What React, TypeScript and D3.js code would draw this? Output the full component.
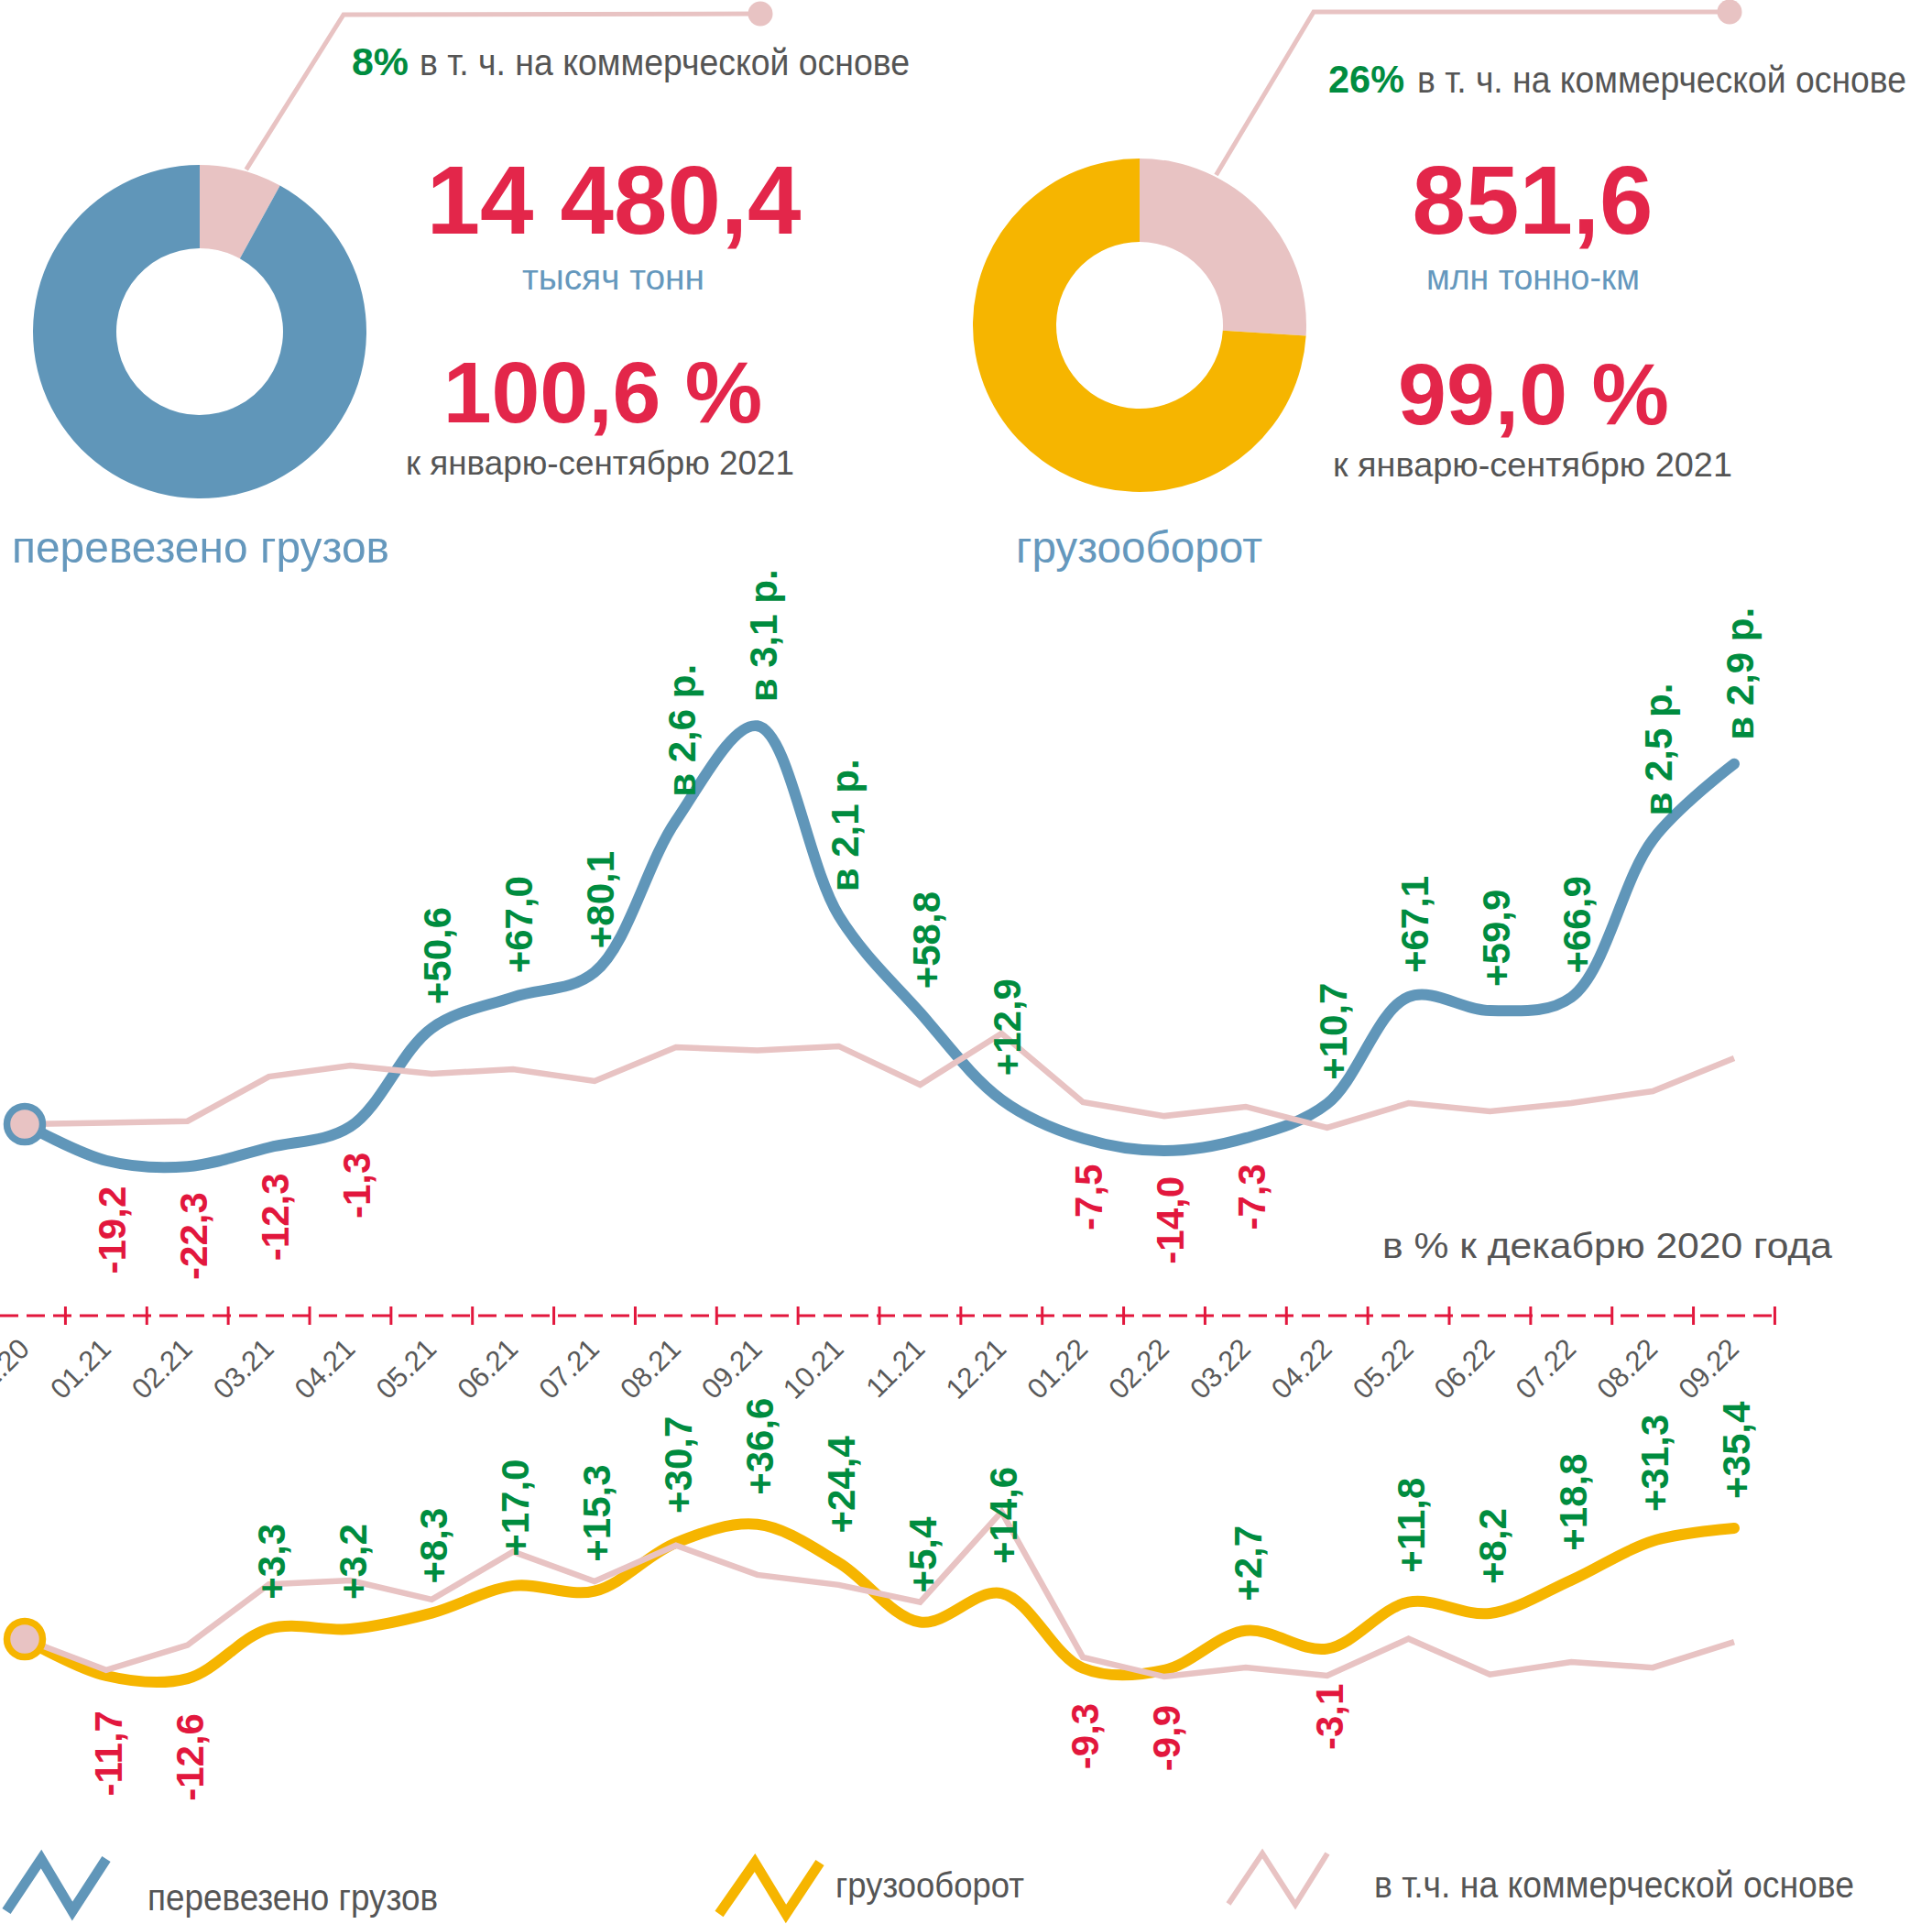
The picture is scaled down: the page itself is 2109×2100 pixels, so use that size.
import React from "react";
import * as d3 from "d3";

// ---------- data ----------
const months = ["12.20","01.21","02.21","03.21","04.21","05.21","06.21","07.21","08.21","09.21","10.21","11.21","12.21","01.22","02.22","03.22","04.22","05.22","06.22","07.22","08.22","09.22"];

// перевезено грузов, % к декабрю 2020
const cargoLabels = ["","-19,2","-22,3","-12,3","-1,3","+50,6","+67,0","+80,1","в 2,6 р.","в 3,1 р.","в 2,1 р.","+58,8","+12,9","-7,5","-14,0","-7,3","+10,7","+67,1","+59,9","+66,9","в 2,5 р.","в 2,9 р."];
const cargoValues = [0,-19.2,-22.3,-12.3,-1.3,50.6,67.0,80.1,160,210,110,58.8,12.9,-7.5,-14.0,-7.3,10.7,67.1,59.9,66.9,150,190];
const cargoCommercial = [0,0.7,1.6,25.1,30.9,26.6,29.0,22.7,40.6,38.9,41.1,20.8,47.8,11.6,4.3,9.2,-1.9,11.1,6.8,11.1,17.4,34.8];

// грузооборот, % к декабрю 2020
const turnoverLabels = ["","-11,7","-12,6","+3,3","+3,2","+8,3","+17,0","+15,3","+30,7","+36,6","+24,4","+5,4","+14,6","-9,3","-9,9","+2,7","-3,1","+11,8","+8,2","+18,8","+31,3","+35,4"];
const turnoverValues = [0,-11.7,-12.6,3.3,3.2,8.3,17.0,15.3,30.7,36.6,24.4,5.4,14.6,-9.3,-9.9,2.7,-3.1,11.8,8.2,18.8,31.3,35.4];
const turnoverCommercial = [0,-9.9,-1.9,17.5,18.7,12.6,27.9,18.4,29.9,20.5,17.3,11.8,40.6,-5.8,-12.0,-9.1,-11.7,0.1,-11.3,-7.3,-9.1,-0.9];

// donut shares (commercial %, rest)
const cargoShare = [8, 92];
const turnoverShare = [26, 74];

// ---------- styles ----------
const BLUE = "#6096b9";
const PINK = "#e8c3c3";
const YELLOW = "#f6b500";
const RED = "#e3264a";
const RED_L = "#e2173d";
const GREEN = "#008c3f";
const GRAY = "#555555";
const CAP_BLUE = "#6598bd";
const NARROW = "'Liberation Sans Narrow','Arial Narrow','Liberation Sans',Arial,sans-serif";
const SANS = "'Liberation Sans',Arial,sans-serif";

const W = 2109, H = 2100;

function NT(props: any) {
  const { x, y, len, size, fill, anchor, weight, children } = props;
  return (
    <text x={x} y={y} fontFamily={NARROW} fontSize={size} fill={fill}
      textAnchor={anchor || "start"} fontWeight={weight || "normal"}
      textLength={len} lengthAdjust="spacingAndGlyphs">{children}</text>
  );
}

function Donut(props: any) {
  const { cx, cy, shares, color, leaderAngle, elbow, end } = props;
  const pie = d3.pie<number>().sort(null).value(d => d)(shares);
  const arc = d3.arc<any>().innerRadius(91).outerRadius(182);
  const a = (leaderAngle * Math.PI) / 180;
  const sx = cx + 184 * Math.sin(a), sy = cy - 184 * Math.cos(a);
  return (
    <g>
      <g transform={`translate(${cx},${cy})`}>
        {pie.map((p, i) => (
          <path key={i} d={arc(p) as string} fill={i === 0 ? PINK : color} />
        ))}
      </g>
      <polyline points={`${sx},${sy} ${elbow[0]},${elbow[1]} ${end[0]},${end[1]}`}
        fill="none" stroke={PINK} strokeWidth={5} />
      <circle cx={end[0]} cy={end[1]} r={13.5} fill={PINK} />
    </g>
  );
}

export default function App() {
  const x = d3.scalePoint<string>().domain(months).range([27, 1893]);
  const step = x.step();
  const yTop = d3.scaleLinear().domain([0, 200]).range([1227, 813]);
  const yBot = d3.scaleLinear().domain([0, 30]).range([1789, 1686.4]);

  const smooth = (ys: any) => d3.line<number>()
    .x((_, i) => x(months[i]) as number).y(d => ys(d))
    .curve(d3.curveCatmullRom.alpha(0.5));
  const straight = (ys: any) => d3.line<number>()
    .x((_, i) => x(months[i]) as number).y(d => ys(d));

  const labels = (labs: string[], vals: number[], ys: any, gapPos: number, gapNeg: number, dx: number) =>
    labs.map((t, i) => {
      if (!t) return null;
      const neg = t.startsWith("-");
      const px = (x(months[i]) as number) + dx;
      const py = neg ? ys(vals[i]) + gapNeg : ys(vals[i]) - gapPos;
      return (
        <text key={i} transform={`translate(${px},${py}) rotate(-90)`} dy="0.36em"
          textAnchor={neg ? "end" : "start"} fontFamily={SANS} fontWeight="bold"
          fontSize={42} fill={neg ? RED_L : GREEN}>{t}</text>
      );
    });

  const axisY = 1436;
  const x0 = x(months[0]) as number;

  return (
    <svg width={W} height={H} viewBox={`0 0 ${W} ${H}`}
      style={{ position: "absolute", left: 0, top: 0, background: "#fff" }}>
      <rect width={W} height={H} fill="#fff" />

      {/* ---- donuts ---- */}
      <Donut cx={218} cy={362} shares={cargoShare} color={BLUE}
        leaderAngle={16} elbow={[375, 16]} end={[830, 15]} />
      <Donut cx={1244} cy={355} shares={turnoverShare} color={YELLOW}
        leaderAngle={27} elbow={[1434, 13]} end={[1888, 13]} />

      {/* ---- headline texts left ---- */}
      <NT x={384} y={82} len={62} size={42} fill={GREEN} weight="bold">8%</NT>
      <NT x={458} y={82} len={535} size={41} fill={GRAY}>в т. ч. на коммерческой основе</NT>
      <text x={670} y={255} textAnchor="middle" fontFamily={SANS} fontWeight="bold" fontSize={105} fill={RED}>14 480,4</text>
      <NT x={570} y={316} len={199} size={39} fill={CAP_BLUE}>тысяч  тонн</NT>
      <text x={658} y={461} textAnchor="middle" fontFamily={SANS} fontWeight="bold" fontSize={95} fill={RED}>100,6 %</text>
      <NT x={443} y={518} len={424} size={36} fill={GRAY}>к январю-сентябрю 2021</NT>
      <NT x={13} y={614} len={412} size={49} fill={CAP_BLUE}>перевезено грузов</NT>

      {/* ---- headline texts right ---- */}
      <NT x={1450} y={101} len={83} size={42} fill={GREEN} weight="bold">26%</NT>
      <NT x={1547} y={101} len={534} size={41} fill={GRAY}>в т. ч. на коммерческой основе</NT>
      <text x={1673} y={255} textAnchor="middle" fontFamily={SANS} fontWeight="bold" fontSize={105} fill={RED}>851,6</text>
      <NT x={1557} y={316} len={233} size={39} fill={CAP_BLUE}>млн тонно-км</NT>
      <text x={1674} y={463} textAnchor="middle" fontFamily={SANS} fontWeight="bold" fontSize={95} fill={RED}>99,0 %</text>
      <NT x={1455} y={520} len={436} size={36} fill={GRAY}>к  январю-сентябрю 2021</NT>
      <NT x={1109} y={614} len={269} size={48} fill={CAP_BLUE}>грузооборот</NT>

      {/* ---- top chart ---- */}
      <path d={smooth(yTop)(cargoValues) as string} fill="none" stroke={BLUE} strokeWidth={12} strokeLinecap="round" />
      <path d={straight(yTop)(cargoCommercial) as string} fill="none" stroke={PINK} strokeWidth={6.5} />
      <circle cx={x0} cy={yTop(0)} r={19.5} fill={PINK} stroke={BLUE} strokeWidth={7.5} />
      {labels(cargoLabels, cargoValues, yTop, 26, 28, 6)}
      <NT x={1509} y={1373} len={491} size={39} fill={GRAY}>в % к декабрю 2020 года</NT>

      {/* ---- axis ---- */}
      <line x1={0} x2={x0 + step * 21.5} y1={axisY} y2={axisY} stroke={RED_L} strokeWidth={3} strokeDasharray="20 9" />
      {months.map((m, i) => (
        <line key={"t" + i} x1={(x(m) as number) + step / 2} x2={(x(m) as number) + step / 2}
          y1={axisY - 10} y2={axisY + 10} stroke={RED_L} strokeWidth={3} />
      ))}
      {months.map((m, i) => (
        <text key={"l" + i} transform={`translate(${(x(m) as number) + 7},${1474}) rotate(-45)`}
          textAnchor="end" fontFamily={SANS} fontSize={31} fill="#595959">{m}</text>
      ))}

      {/* ---- bottom chart ---- */}
      <path d={smooth(yBot)(turnoverValues) as string} fill="none" stroke={YELLOW} strokeWidth={12} strokeLinecap="round" />
      <path d={straight(yBot)(turnoverCommercial) as string} fill="none" stroke={PINK} strokeWidth={6.5} />
      <circle cx={x0} cy={yBot(0)} r={19.5} fill={PINK} stroke={YELLOW} strokeWidth={7.5} />
      {labels(turnoverLabels, turnoverValues, yBot, 32, 38, 2)}

      {/* ---- legend ---- */}
      <polyline points="7,2086 45,2029 79,2086 116,2029" fill="none" stroke={BLUE} strokeWidth={11} />
      <NT x={161} y={2085} len={317} size={41} fill={GRAY}>перевезено грузов</NT>
      <polyline points="785,2089 824,2033 858,2089 895,2033" fill="none" stroke={YELLOW} strokeWidth={11} />
      <NT x={912} y={2071} len={206} size={38} fill={GRAY}>грузооборот</NT>
      <polyline points="1341,2078 1378,2023 1414,2079 1449,2023" fill="none" stroke={PINK} strokeWidth={6} />
      <NT x={1500} y={2071} len={524} size={40} fill={GRAY}>в т.ч. на коммерческой основе</NT>
    </svg>
  );
}
